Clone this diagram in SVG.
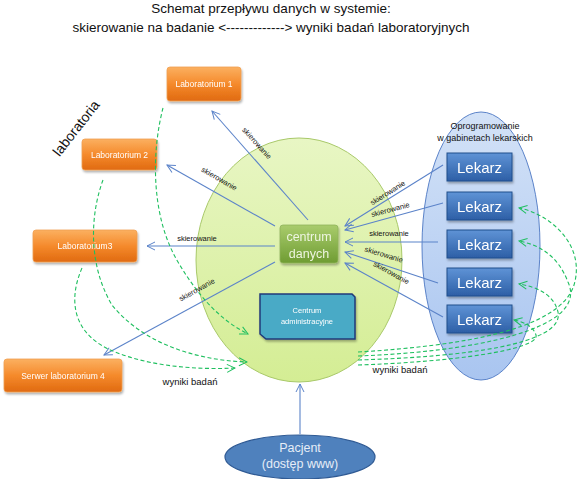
<svg xmlns="http://www.w3.org/2000/svg" width="582" height="479" viewBox="0 0 582 479">
<defs>
  <linearGradient id="gOr" x1="0" y1="0" x2="0" y2="1"><stop offset="0" stop-color="#fbb060"/><stop offset="0.5" stop-color="#f58a2c"/><stop offset="1" stop-color="#e06a10"/></linearGradient>
  <linearGradient id="gGr" x1="0" y1="0" x2="0" y2="1"><stop offset="0" stop-color="#a9cc6c"/><stop offset="1" stop-color="#6f9c33"/></linearGradient>
  <linearGradient id="gBl" x1="0" y1="0" x2="0" y2="1"><stop offset="0" stop-color="#5f93d6"/><stop offset="1" stop-color="#2d5fa6"/></linearGradient>
  <linearGradient id="gLime" x1="0" y1="0" x2="0" y2="1"><stop offset="0" stop-color="#e8f6c4"/><stop offset="1" stop-color="#d4ed94"/></linearGradient>
  <linearGradient id="gSky" x1="0" y1="0" x2="0" y2="1"><stop offset="0" stop-color="#d3e2f7"/><stop offset="1" stop-color="#a9c5f0"/></linearGradient>
  <filter id="sh" x="-20%" y="-20%" width="140%" height="150%"><feDropShadow dx="1" dy="2" stdDeviation="1.2" flood-color="#000" flood-opacity="0.3"/></filter>
  <marker id="aB" markerWidth="10" markerHeight="10" refX="9" refY="5" orient="auto" markerUnits="userSpaceOnUse"><path d="M1,1 L9,5 L1,9" fill="none" stroke="#5b83c9" stroke-width="1"/></marker>
  <marker id="aG" markerWidth="10" markerHeight="10" refX="9" refY="5" orient="auto" markerUnits="userSpaceOnUse"><path d="M1,1 L9,5 L1,9" fill="none" stroke="#1fbf5f" stroke-width="1"/></marker>
  <style>
    text{font-family:"Liberation Sans",Arial,sans-serif}
    .ttl{font-size:13.5px;fill:#111;text-anchor:middle}
    .orb{fill:url(#gOr);stroke:#f0a050;stroke-width:0.8}
    .ort{font-size:8.5px;fill:#fff;text-anchor:middle}
    .lek{fill:url(#gBl);stroke:#1f4e8c;stroke-width:1}
    .lekt{font-size:15px;fill:#fff;text-anchor:middle}
    .lbl{font-size:7.5px;fill:#111;text-anchor:middle}
    .wyn{font-size:9.5px;fill:#111;text-anchor:middle}
    .bl{stroke:#5b83c9;stroke-width:1.1;fill:none;marker-end:url(#aB)}
    .gd{stroke:#1fbf5f;stroke-width:1.1;fill:none;stroke-dasharray:4,2.5;marker-end:url(#aG)}
  </style>
</defs>
<rect width="582" height="479" fill="#fff"/>

<g id="title">
  <text class="ttl" x="271" y="13">Schemat przepływu danych w systemie:</text>
  <text class="ttl" x="271" y="32">skierowanie na badanie &lt;-------------&gt;  wyniki badań laboratoryjnych</text>
</g>

<g id="strefa-centrum">
  <ellipse cx="299" cy="260" rx="103" ry="122" fill="url(#gLime)" stroke="#a9c96a" stroke-width="1"/>
</g>
<g id="strefa-gabinety">
  <ellipse cx="481" cy="246" rx="59" ry="134" fill="url(#gSky)" stroke="#5b83c9" stroke-width="1"/>
  <text x="485" y="129" font-size="9" fill="#111" text-anchor="middle">Oprogramowanie</text>
  <text x="485" y="141" font-size="9" fill="#111" text-anchor="middle">w gabinetach lekarskich</text>
</g>

<g id="laboratoria-label">
  <text x="76" y="133" font-size="14" fill="#111" text-anchor="middle" transform="rotate(-52 76 128)">laboratoria</text>
</g>

<g id="lab1" filter="url(#sh)"><rect class="orb" x="167" y="67" width="74" height="34" rx="3"/><text class="ort" x="204" y="87">Laboratorium 1</text></g>
<g id="lab2" filter="url(#sh)"><rect class="orb" x="82" y="139" width="75" height="31" rx="3"/><text class="ort" x="119.5" y="157.5">Laboratorium 2</text></g>
<g id="lab3" filter="url(#sh)"><rect class="orb" x="33" y="230" width="104" height="32" rx="3"/><text class="ort" x="85" y="249">Laboratorium3</text></g>
<g id="lab4" filter="url(#sh)"><rect class="orb" x="4" y="359" width="118" height="33" rx="3"/><text class="ort" x="63" y="378.5">Serwer laboratorium 4</text></g>

<g id="centrum-danych" filter="url(#sh)">
  <rect x="280" y="225" width="58" height="38" rx="3" fill="url(#gGr)" stroke="#8fb35a" stroke-width="0.8"/>
  <text x="309" y="241" font-size="12.5" fill="#eef5e0" text-anchor="middle">centrum</text>
  <text x="309" y="258" font-size="12.5" fill="#eef5e0" text-anchor="middle">danych</text>
</g>

<g id="centrum-administracyjne" filter="url(#sh)">
  <path d="M260,294 H352 L355,297 V339 H266 L260,334 Z" fill="#4aaac6" stroke="#1f3a7a" stroke-width="1.5"/>
  <text x="307" y="313" font-size="7.5" fill="#fff" text-anchor="middle">Centrum</text>
  <text x="307" y="324" font-size="7.5" fill="#fff" text-anchor="middle">administracyjne</text>
</g>

<g id="lekarz1" filter="url(#sh)"><rect class="lek" x="447" y="153" width="65" height="28"/><text class="lekt" x="479.5" y="172.5">Lekarz</text></g>
<g id="lekarz2" filter="url(#sh)"><rect class="lek" x="447" y="192" width="65" height="28"/><text class="lekt" x="479.5" y="211.5">Lekarz</text></g>
<g id="lekarz3" filter="url(#sh)"><rect class="lek" x="447" y="230" width="65" height="28"/><text class="lekt" x="479.5" y="249.5">Lekarz</text></g>
<g id="lekarz4" filter="url(#sh)"><rect class="lek" x="447" y="268" width="65" height="28"/><text class="lekt" x="479.5" y="287.5">Lekarz</text></g>
<g id="lekarz5" filter="url(#sh)"><rect class="lek" x="447" y="305" width="65" height="28"/><text class="lekt" x="479.5" y="324.5">Lekarz</text></g>

<g id="pacjent">
  <ellipse cx="300" cy="457" rx="75" ry="22" fill="#4f81bd" stroke="#2f5a94" stroke-width="1.2"/>
  <text x="300" y="452" font-size="12.5" fill="#e6edf7" text-anchor="middle">Pacjent</text>
  <text x="300" y="468" font-size="12.5" fill="#e6edf7" text-anchor="middle">(dostęp www)</text>
</g>

<g id="connectors">
  <path class="bl" d="M308,220 L212,111"/>
  <path class="bl" d="M275,226 L167,165"/>
  <path class="bl" d="M275,246 L147,246"/>
  <path class="bl" d="M275,262 L104,355"/>
  <path class="bl" d="M443,165 L345,226"/>
  <path class="bl" d="M443,203 L345,230"/>
  <path class="bl" d="M438,242 L345,242"/>
  <path class="bl" d="M438,283 L345,252"/>
  <path class="bl" d="M443,317 L345,263"/>
  <path class="bl" d="M300,434 L300,384"/>

  <path class="gd" d="M163,108 C152,150 150,215 178,262 C198,296 220,320 248,334"/>
  <path class="gd" d="M103,180 C90,215 88,265 112,305 C140,340 190,360 247,362"/>
  <path class="gd" d="M82,268 C68,300 72,335 115,352 C150,366 195,370 235,368"/>
  <path class="gd" d="M358,352 C460,346 560,330 574,285 C586,245 550,214 519,208"/>
  <path class="gd" d="M358,356 C470,352 590,330 568,282 C558,256 540,245 519,241"/>
  <path class="gd" d="M358,360 C460,357 565,345 558,312 C554,295 538,287 519,284"/>
  <path class="gd" d="M358,365 C450,362 540,350 536,335 C533,326 524,322 514,320"/>

  <text class="lbl" transform="translate(255,145) rotate(48)">skierowanie</text>
  <text class="lbl" transform="translate(218,181) rotate(30)">skierowanie</text>
  <text class="lbl" x="197" y="241">skierowanie</text>
  <text class="lbl" transform="translate(198,292) rotate(-29)">skierowanie</text>
  <text class="lbl" transform="translate(389,195) rotate(-32)">skierowanie</text>
  <text class="lbl" transform="translate(391,212) rotate(-15)">skierowanie</text>
  <text class="lbl" x="389" y="236">skierowanie</text>
  <text class="lbl" transform="translate(383,257) rotate(17)">skierowanie</text>
  <text class="lbl" transform="translate(390,275) rotate(29)">skierowanie</text>
  <text class="wyn" x="190" y="385">wyniki badań</text>
  <text class="wyn" x="400" y="373">wyniki badań</text>
</g>
</svg>
